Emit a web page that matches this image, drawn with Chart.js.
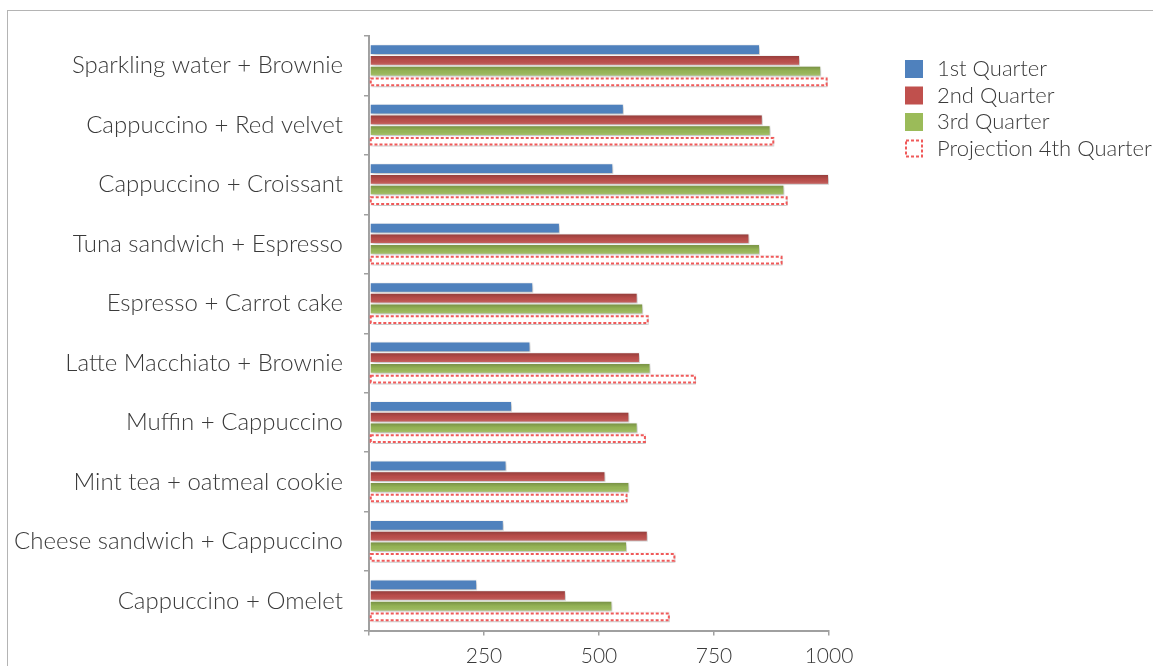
<!DOCTYPE html>
<html>
<head>
<meta charset="utf-8">
<script src="https://cdn.jsdelivr.net/npm/chart.js@4.4.1/dist/chart.umd.min.js"></script>
<style>
  html, body { margin: 0; padding: 0; background: #fff; overflow: hidden; }
  #wrap { position: relative; width: 1153px; height: 666px; }
  #frame { position: absolute; left: 7px; top: 10px; width: 1300px; height: 800px; border: 1px solid #b4b4b4; }
  canvas { position: absolute; left: 0; top: 0; }
</style>
</head>
<body>
<div id="wrap">
  <div id="frame"></div>
  <canvas id="combo-chart" width="1153" height="666"></canvas>
</div>
<script>
const categories = [
  'Sparkling water + Brownie',
  'Cappuccino + Red velvet',
  'Cappuccino + Croissant',
  'Tuna sandwich + Espresso',
  'Espresso + Carrot cake',
  'Latte Macchiato + Brownie',
  'Muffin + Cappuccino',
  'Mint tea + oatmeal cookie',
  'Cheese sandwich + Cappuccino',
  'Cappuccino + Omelet'
];
const seriesNames = ['1st Quarter', '2nd Quarter', '3rd Quarter', 'Projection 4th Quarter'];
const q1 = [850, 554, 531, 415, 357, 351, 311, 299, 293, 235];
const q2 = [937, 856, 1000, 827, 584, 589, 566, 514, 606, 428];
const q3 = [983, 873, 903, 850, 596, 612, 584, 566, 561, 529];
const q4 = [997, 881, 910, 899, 608, 711, 602, 562, 666, 654];
const xTicks = [0, 250, 500, 750, 1000];

const colors = ['#4f81bd', '#c0504d', '#9bbb59', '#ffffff'];
const dashRed = '#f05a5a';
const textColor = '#3a3a3a';
const fontFamily = 'Lato, "Open Sans", "DejaVu Sans", sans-serif';

// soft drop shadow behind each bar, plus darker top shading on red/green
const shadowPlugin = {
  id: 'barShadow',
  beforeDatasetDraw(chart) {
    const ctx = chart.ctx;
    ctx.shadowColor = 'rgba(0,0,0,0.28)';
    ctx.shadowBlur = 4;
    ctx.shadowOffsetX = 2;
    ctx.shadowOffsetY = 2;
  },
  afterDatasetDraw(chart, args) {
    const ctx = chart.ctx;
    ctx.shadowColor = 'rgba(0,0,0,0)';
    ctx.shadowBlur = 0;
    ctx.shadowOffsetX = 0;
    ctx.shadowOffsetY = 0;
    const i = args.index;
    if (i !== 1 && i !== 2) return;
    ctx.save();
    args.meta.data.forEach(bar => {
      const p = bar.getProps(['x', 'y', 'base', 'height'], true);
      const top = p.y - p.height / 2 + 1;
      const h = p.height - 2;
      const g = ctx.createLinearGradient(0, top, 0, top + h);
      g.addColorStop(0, 'rgba(0,0,0,0.22)');
      g.addColorStop(0.5, 'rgba(0,0,0,0.04)');
      g.addColorStop(1, 'rgba(255,255,255,0.12)');
      ctx.fillStyle = g;
      ctx.fillRect(p.base + 1, top, p.x - p.base - 2, h);
    });
    ctx.restore();
  }
};

// dotted outline for the projection series
const dashedPlugin = {
  id: 'dashedBars',
  afterDatasetsDraw(chart) {
    const ctx = chart.ctx;
    const meta = chart.getDatasetMeta(3);
    ctx.save();
    ctx.strokeStyle = dashRed;
    ctx.lineWidth = 2;
    ctx.setLineDash([3, 2]);
    meta.data.forEach(bar => {
      const p = bar.getProps(['x', 'y', 'base', 'height'], true);
      const top = p.y - p.height / 2 + 2;
      const h = p.height - 4;
      ctx.strokeRect(p.base + 1, top, p.x - p.base - 2, h);
    });
    ctx.restore();
  }
};

// legend drawn at the top right
const legendPlugin = {
  id: 'sideLegend',
  afterDraw(chart) {
    const ctx = chart.ctx;
    const left = 905, top = 60, rowH = 26.5, box = 18;
    ctx.save();
    ctx.font = '300 22px ' + fontFamily;
    ctx.textBaseline = 'middle';
    seriesNames.forEach((name, i) => {
      const y = top + i * rowH;
      if (i < 3) {
        ctx.fillStyle = colors[i];
        ctx.fillRect(left, y, box, box);
      } else {
        ctx.strokeStyle = dashRed;
        ctx.lineWidth = 2;
        ctx.setLineDash([3, 2]);
        ctx.strokeRect(left + 1, y + 1, box - 2, box - 2);
        ctx.setLineDash([]);
      }
      ctx.fillStyle = textColor;
      ctx.fillText(name, left + 32, y + box / 2);
    });
    ctx.restore();
  }
};

function makeDataset(i, values) {
  return {
    label: seriesNames[i],
    data: values,
    backgroundColor: colors[i],
    borderColor: '#ffffff',
    borderWidth: 1,
    borderSkipped: false,
    barPercentage: 1,
    categoryPercentage: 0.72
  };
}

document.addEventListener('DOMContentLoaded', () => {
  const ctx = document.getElementById('combo-chart').getContext('2d');
  new Chart(ctx, {
    type: 'bar',
    data: {
      labels: categories,
      datasets: [
        makeDataset(0, q1),
        makeDataset(1, q2),
        makeDataset(2, q3),
        makeDataset(3, q4)
      ]
    },
    options: {
      indexAxis: 'y',
      responsive: false,
      animation: false,
      layout: { padding: { top: 36, right: 324, left: 0, bottom: 0 } },
      plugins: {
        legend: { display: false },
        tooltip: { enabled: false }
      },
      scales: {
        x: {
          min: 0,
          max: 1000,
          afterBuildTicks(scale) { scale.ticks = xTicks.map(v => ({ value: v })); },
          afterFit(scale) { scale.height = 35; },
          grid: { drawOnChartArea: false, tickLength: 5, color: '#a0a0a0', lineWidth: 1.5 },
          border: { color: '#a0a0a0', width: 2 },
          ticks: {
            padding: 8,
            color: textColor,
            font: { family: fontFamily, size: 21, weight: '300' },
            callback: v => (v === 0 ? '' : v)
          }
        },
        y: {
          afterFit(scale) { scale.width = 369; },
          grid: { drawOnChartArea: false, tickLength: 5, color: '#a0a0a0', lineWidth: 1.5, offset: true },
          border: { color: '#a0a0a0', width: 2 },
          ticks: {
            padding: 21,
            color: textColor,
            font: { family: fontFamily, size: 24, weight: '300' }
          }
        }
      }
    },
    plugins: [shadowPlugin, dashedPlugin, legendPlugin]
  });
});
</script>
</body>
</html>
